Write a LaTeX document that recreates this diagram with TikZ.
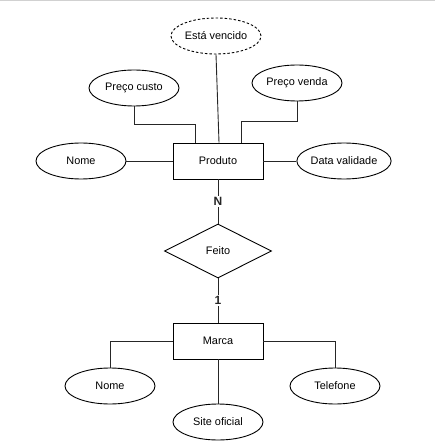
\documentclass[tikz,border=0pt]{standalone}
\usepackage{fontspec}
\setmainfont{Liberation Sans}
\usetikzlibrary{shapes.geometric}
\tikzset{
  attr/.style={ellipse,draw,line width=0.9pt,minimum width=90pt,minimum height=36pt,inner sep=0pt,font=\fontsize{10.9}{13}\selectfont},
  entity/.style={rectangle,draw,line width=0.9pt,minimum width=90pt,minimum height=36pt,inner sep=0pt,font=\fontsize{10.9}{13}\selectfont},
  rel/.style={diamond,draw,line width=0.9pt,aspect=2,minimum width=107pt,minimum height=54pt,inner sep=0pt,font=\fontsize{10.9}{13}\selectfont},
  conn/.style={draw,line width=0.9pt,color=black!85},
  card/.style={fill=white,inner sep=1.5pt,font=\fontsize{12}{14}\selectfont\bfseries}
}
\begin{document}
\begin{tikzpicture}[x=1pt,y=-1pt]
\useasboundingbox (0,0) rectangle (435,446);
\draw[black!18,line width=1pt] (0,0.5) -- (435,0.5);
% Produto and attributes
\node[entity] (prod) at (218,161) {Produto};
\node[attr,dash pattern=on 2.5pt off 2pt] (ev) at (216,36) {Está vencido};
\node[attr] (pc) at (134,88) {Preço custo};
\node[attr] (pv) at (297,83) {Preço venda};
\node[attr] (nome) at (81,161) {Nome};
\node[attr] (dv) at (344,161) {Data validade};
% relationship
\node[rel] (feito) at (218,251) {Feito};
% Marca and attributes
\node[entity] (marca) at (218,341) {Marca};
\node[attr] (nome2) at (110,386) {Nome};
\node[attr] (tel) at (335,386) {Telefone};
\node[attr] (site) at (218,422) {Site oficial};
% connectors
\draw[conn] (pc.south) -- ++(0,18) -| ([xshift=23pt]prod.north west);
\draw[conn] (pv.south) -- ++(0,20) -| ([xshift=-22pt]prod.north east);
\draw[conn] (ev.south) -- ([xshift=1pt]prod.north);
\draw[conn] (nome.east) -- (prod.west);
\draw[conn] (dv.west) -- (prod.east);
\draw[conn] (prod.south) -- node[card] {N} (feito.north);
\draw[conn] (feito.south) -- node[card] {1} (marca.north);
\draw[conn] (marca.west) -| (nome2.north);
\draw[conn] (marca.east) -| (tel.north);
\draw[conn] (marca.south) -- (site.north);
\end{tikzpicture}
\end{document}
